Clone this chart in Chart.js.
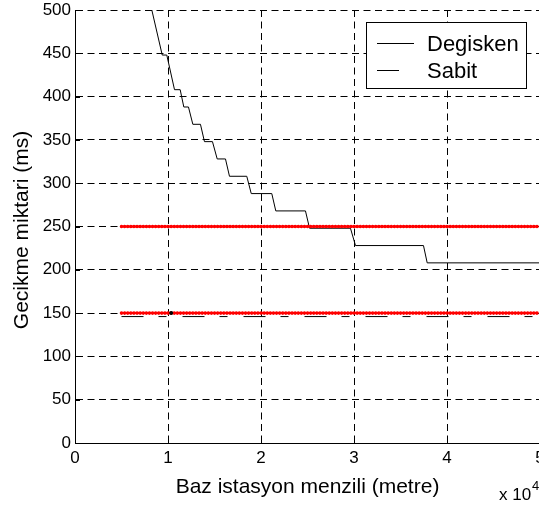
<!DOCTYPE html>
<html>
<head>
<meta charset="utf-8">
<script src="https://cdn.jsdelivr.net/npm/chart.js@4/dist/chart.umd.min.js"></script>
<style>
  html, body { margin: 0; padding: 0; background: #fff; overflow: hidden; }
  #wrap { width: 539px; height: 507px; overflow: hidden; }
  #c { display: block; }
</style>
</head>
<body>
<div id="wrap"><canvas id="c" width="540" height="507"></canvas></div>
<script>
// Base station range (m) and the delay of the variable scheme (ms)
const rangeVar = [8260, 9380, 9870, 10700, 11310, 11700, 12200, 12670, 13490, 13920, 14780,
                  15290, 16180, 16610, 18470, 18950, 21160, 21590, 24780, 25220, 29620,
                  30160, 37470, 37870, 50000];
const delayVar = [500, 448, 448, 408, 408, 388, 388, 368, 368, 348, 348,
                  328, 328, 308, 308, 288, 288, 268, 268, 248, 248,
                  228, 228, 208, 208];

// Fixed scheme
const rangeFixed = [5000, 50000];
const delayFixed = [146, 146];

// Red dotted reference levels
const rangeRef = [5000, 50000];
const refHigh = [250, 250];
const refLow = [150, 150];

// Single black marker on the lower level
const markX = [10340];
const markY = [150];

const xTicks = [0, 1, 2, 3, 4, 5];
const yTicks = [0, 50, 100, 150, 200, 250, 300, 350, 400, 450, 500];

const pts = (xs, ys) => xs.map((x, i) => ({ x: x, y: ys[i] }));
const FONT = "'Liberation Sans', Arial, Helvetica, sans-serif";

// MATLAB-like inward tick marks
const inwardTicks = {
  id: 'inwardTicks',
  afterDatasetsDraw(chart) {
    const { ctx, chartArea: a, scales: { x, y } } = chart;
    ctx.save();
    ctx.strokeStyle = '#000';
    ctx.lineWidth = 1;
    ctx.beginPath();
    x.ticks.forEach(t => {
      const px = Math.round(x.getPixelForValue(t.value)) + 0.5;
      ctx.moveTo(px, a.bottom); ctx.lineTo(px, a.bottom - 5);
    });
    y.ticks.forEach(t => {
      const py = Math.round(y.getPixelForValue(t.value)) + 0.5;
      ctx.moveTo(a.left, py); ctx.lineTo(a.left + 5, py);
    });
    ctx.stroke();
    ctx.restore();
  }
};

// Axis texts: y label and the x exponent
const axisTexts = {
  id: 'axisTexts',
  afterDraw(chart) {
    const { ctx } = chart;
    ctx.save();
    ctx.fillStyle = '#000';
    ctx.translate(22, 230);
    ctx.rotate(-Math.PI / 2);
    ctx.font = '21px ' + FONT;
    ctx.textAlign = 'center';
    ctx.textBaseline = 'middle';
    ctx.fillText('Gecikme miktari (ms)', 0, 0);
    ctx.restore();

    ctx.save();
    ctx.fillStyle = '#000';
    ctx.textBaseline = 'alphabetic';
    ctx.textAlign = 'left';
    ctx.font = '17px ' + FONT;
    ctx.fillText('x 10', 499, 500);
    ctx.font = '13px ' + FONT;
    ctx.fillText('4', 532, 490);
    ctx.restore();
  }
};

// Boxed legend inside the plot area
const boxLegend = {
  id: 'boxLegend',
  afterDraw(chart) {
    const { ctx } = chart;
    const entries = chart.data.datasets.filter(d => d.inLegend);
    entries.sort((a, b) => a.legendRank - b.legendRank);
    const bx = 366.5, by = 22.5, bw = 160, bh = 66;
    ctx.save();
    ctx.fillStyle = '#fff';
    ctx.fillRect(bx, by, bw, bh);
    ctx.strokeStyle = '#000';
    ctx.lineWidth = 1;
    ctx.strokeRect(bx, by, bw, bh);
    ctx.font = '22px ' + FONT;
    ctx.textBaseline = 'middle';
    ctx.textAlign = 'left';
    entries.forEach((d, i) => {
      const yy = Math.round(by + 20 + i * 27) + 0.5;
      ctx.save();
      ctx.strokeStyle = d.borderColor;
      ctx.lineWidth = d.borderWidth;
      ctx.setLineDash(d.borderDash || []);
      ctx.beginPath();
      ctx.moveTo(377, yy); ctx.lineTo(414, yy);
      ctx.stroke();
      ctx.restore();
      ctx.fillStyle = '#000';
      ctx.fillText(d.label, 427, yy + 1);
    });
    ctx.restore();
  }
};

new Chart(document.getElementById('c'), {
  type: 'line',
  data: {
    datasets: [
      {
        label: 'mark', data: pts(markX, markY), showLine: false,
        pointRadius: 2, pointBackgroundColor: '#000', pointBorderWidth: 0, order: 0
      },
      {
        label: 'ref250', data: pts(rangeRef, refHigh), borderColor: '#ff0000', borderWidth: 3.6,
        borderDash: [0.1, 3.0], borderCapStyle: 'round', pointRadius: 0, order: 1
      },
      {
        label: 'ref150', data: pts(rangeRef, refLow), borderColor: '#ff0000', borderWidth: 3.6,
        borderDash: [0.1, 3.0], borderCapStyle: 'round', pointRadius: 0, order: 1
      },
      {
        label: 'Sabit', data: pts(rangeFixed, delayFixed), borderColor: '#000', borderWidth: 1,
        borderDash: [22, 15, 8, 16], pointRadius: 0, order: 2, inLegend: true, legendRank: 2
      },
      {
        label: 'Degisken', data: pts(rangeVar, delayVar), borderColor: '#000', borderWidth: 1,
        pointRadius: 0, tension: 0, order: 3, inLegend: true, legendRank: 1
      }
    ]
  },
  options: {
    responsive: false,
    animation: false,
    devicePixelRatio: 1,
    layout: { autoPadding: false, padding: { left: 0, right: 0, top: 10, bottom: 0 } },
    plugins: { legend: { display: false }, tooltip: { enabled: false } },
    scales: {
      x: {
        type: 'linear', min: 0, max: 50000,
        afterBuildTicks: s => { s.ticks = xTicks.map(v => ({ value: v * 10000 })); },
        ticks: {
          callback: v => String(v / 10000),
          color: '#000', font: { family: FONT, size: 17 }, padding: 5, maxRotation: 0
        },
        grid: { color: '#000', lineWidth: 1, drawTicks: false },
        border: { display: true, color: '#000', width: 1, dash: [7, 4.5] },
        title: {
          display: true, text: 'Baz istasyon menzili (metre)', color: '#000',
          font: { family: FONT, size: 21 }, padding: { top: 2, bottom: 7 }
        },
        afterFit: s => { s.height = 64; s.paddingLeft = 0; s.paddingRight = 0; }
      },
      y: {
        type: 'linear', min: 0, max: 500,
        afterBuildTicks: s => { s.ticks = yTicks.map(v => ({ value: v })); },
        ticks: { color: '#000', font: { family: FONT, size: 17 }, padding: 4 },
        grid: { color: '#000', lineWidth: 1, drawTicks: false },
        border: { display: true, color: '#000', width: 1, dash: [7, 4.5] },
        title: { display: false },
        afterFit: s => { s.width = 75; s.paddingTop = 0; s.paddingBottom = 0; }
      }
    }
  },
  plugins: [inwardTicks, axisTexts, boxLegend]
});
</script>
</body>
</html>
